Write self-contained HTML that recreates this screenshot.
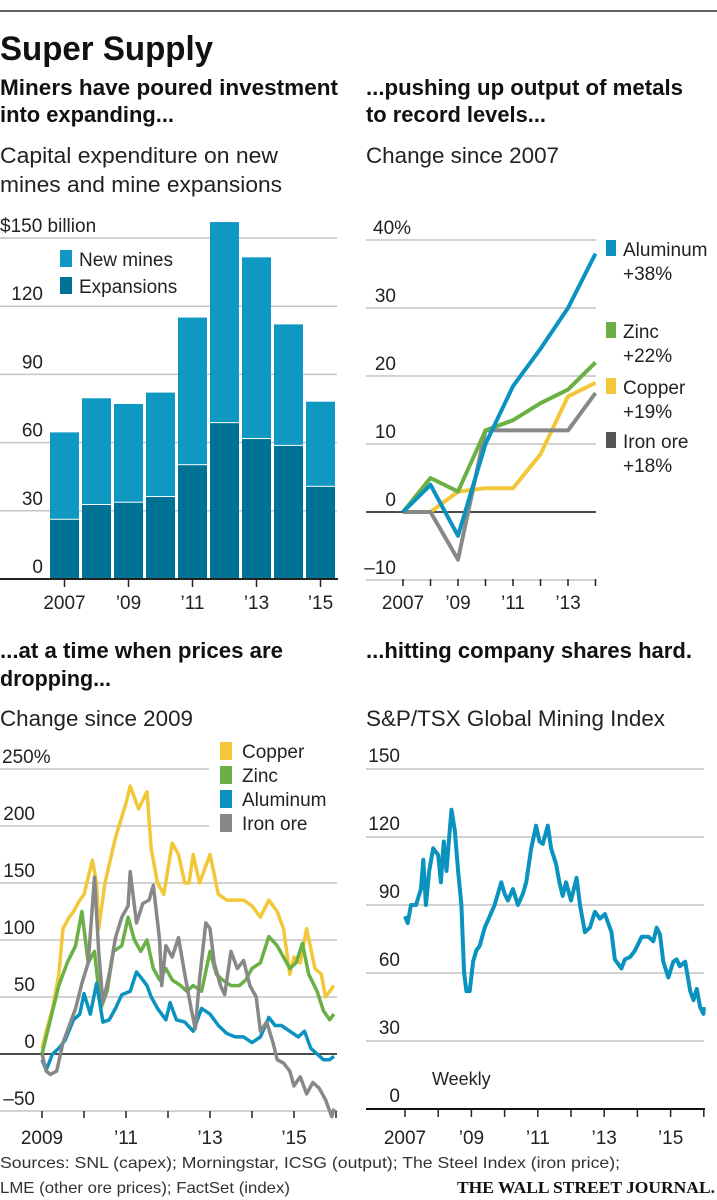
<!DOCTYPE html>
<html><head><meta charset="utf-8"><style>
html,body{margin:0;padding:0;background:#fff;}
svg{display:block;font-family:"Liberation Sans",sans-serif;}
.h{font-weight:bold;font-size:22px;fill:#111;}
.s{font-size:22px;fill:#222;}
.t{font-size:18px;fill:#222;}
.g{stroke:#c4c4c4;stroke-width:1.5;}
</style></head><body>
<svg id="root" width="717" height="1200" viewBox="0 0 717 1200">
<line x1="0" y1="11" x2="717" y2="11" stroke="#333" stroke-width="1.5"/>
<text x="0" y="60" font-size="34" font-weight="bold" fill="#111" textLength="213" lengthAdjust="spacingAndGlyphs">Super Supply</text>
<text class="h" x="0" y="95" textLength="338" lengthAdjust="spacingAndGlyphs">Miners have poured investment</text>
<text class="h" x="0" y="122" textLength="174" lengthAdjust="spacingAndGlyphs">into expanding...</text>
<text class="s" x="0" y="163" textLength="278" lengthAdjust="spacingAndGlyphs">Capital expenditure on new</text>
<text class="s" x="0" y="192" textLength="282" lengthAdjust="spacingAndGlyphs">mines and mine expansions</text>
<text class="h" x="366" y="95" textLength="317" lengthAdjust="spacingAndGlyphs">...pushing up output of metals</text>
<text class="h" x="366" y="122" textLength="180" lengthAdjust="spacingAndGlyphs">to record levels...</text>
<text class="s" x="366" y="163" textLength="193" lengthAdjust="spacingAndGlyphs">Change since 2007</text>
<text class="h" x="0" y="658" textLength="283" lengthAdjust="spacingAndGlyphs">...at a time when prices are</text>
<text class="h" x="0" y="686" textLength="111" lengthAdjust="spacingAndGlyphs">dropping...</text>
<text class="s" x="0" y="726" textLength="193" lengthAdjust="spacingAndGlyphs">Change since 2009</text>
<text class="h" x="366" y="658" textLength="326" lengthAdjust="spacingAndGlyphs">...hitting company shares hard.</text>
<text class="s" x="366" y="726" textLength="299" lengthAdjust="spacingAndGlyphs">S&amp;P/TSX Global Mining Index</text>
<text x="0" y="1168" font-size="16" fill="#333" textLength="620" lengthAdjust="spacingAndGlyphs">Sources: SNL (capex); Morningstar, ICSG (output); The Steel Index (iron price);</text>
<text x="0" y="1193" font-size="16" fill="#333" textLength="290" lengthAdjust="spacingAndGlyphs">LME (other ore prices); FactSet (index)</text>
<text x="457" y="1193" font-size="17" font-weight="bold" fill="#111" font-family="Liberation Serif,serif" textLength="258" lengthAdjust="spacingAndGlyphs">THE WALL STREET JOURNAL.</text>
<text class="t" x="432" y="1085">Weekly</text>
</svg>
<script>
// ---------- Chart 1 data ----------
const capexYears = [2007,2008,2009,2010,2011,2012,2013,2014,2015];
const capexTotal = [64.5,79.5,77,82,115,157,141.5,112,78];
const capexExpansions = [26.5,33,34,36.5,50.5,69,62,59,41];
const capexTicks = [0,30,60,90,120,150];
// ---------- Chart 2 data ----------
const outYears = [2007,2008,2009,2010,2011,2012,2013,2014];
const outAluminum = [0,4,-3.5,10,18.5,24,30,38];
const outZinc = [0,5,3,12,13.5,16,18,22];
const outCopper = [null,0,3,3.5,3.5,8.5,17,19];
const outIron = [0,0,-7,12,12,12,12,17.5];
const outTicks = [-10,0,10,20,30,40];
// ---------- Chart 3 data ----------
const priceTicks = [-50,0,50,100,150,200,250];
const copperT = [2009.0,2009.1,2009.25,2009.4,2009.5,2009.65,2009.75,2009.9,2010.0,2010.2,2010.3,2010.35,2010.5,2010.75,2011.0,2011.1,2011.3,2011.5,2011.6,2011.75,2011.9,2012.1,2012.25,2012.4,2012.5,2012.6,2012.75,2013.0,2013.2,2013.4,2013.6,2013.8,2014.0,2014.2,2014.4,2014.6,2014.75,2014.9,2015.0,2015.15,2015.3,2015.5,2015.65,2015.75,2015.95];
const copperV = [5,20,40,70,110,120,125,135,140,170,150,110,150,190,220,235,215,230,180,150,140,185,175,150,150,175,150,175,140,135,135,135,130,120,135,125,110,70,85,80,110,75,70,50,60];
const zincT = [2009.0,2009.2,2009.4,2009.6,2009.8,2009.95,2010.1,2010.25,2010.4,2010.55,2010.7,2010.9,2011.05,2011.2,2011.35,2011.5,2011.65,2011.8,2011.95,2012.1,2012.3,2012.45,2012.6,2012.8,2013.0,2013.15,2013.3,2013.5,2013.7,2013.85,2014.0,2014.2,2014.4,2014.6,2014.75,2014.9,2015.05,2015.2,2015.35,2015.55,2015.7,2015.85,2015.95];
const zincV = [0,30,60,80,95,125,80,90,40,55,90,95,120,100,90,100,75,65,75,65,60,55,60,55,90,70,65,60,60,65,75,80,103,95,85,75,80,97,70,55,38,30,35];
const alumT = [2009.0,2009.1,2009.25,2009.4,2009.55,2009.75,2009.9,2010.0,2010.15,2010.3,2010.45,2010.6,2010.75,2010.9,2011.1,2011.25,2011.4,2011.5,2011.6,2011.75,2011.95,2012.05,2012.2,2012.4,2012.6,2012.8,2013.0,2013.2,2013.4,2013.6,2013.8,2014.0,2014.2,2014.4,2014.55,2014.7,2014.9,2015.1,2015.25,2015.4,2015.55,2015.7,2015.85,2015.95];
const alumV = [-5,-14,0,5,12,30,35,53,35,62,28,30,40,52,55,72,65,60,50,40,30,45,30,28,20,40,35,25,18,15,15,10,15,32,25,25,20,15,20,5,0,-5,-5,-2];
const ironT = [2009.0,2009.1,2009.2,2009.35,2009.5,2009.65,2009.8,2009.95,2010.1,2010.25,2010.35,2010.45,2010.6,2010.75,2010.9,2011.05,2011.1,2011.25,2011.4,2011.55,2011.65,2011.8,2011.85,2011.95,2012.1,2012.25,2012.4,2012.55,2012.65,2012.75,2012.9,2013.0,2013.1,2013.25,2013.35,2013.5,2013.65,2013.8,2013.95,2014.1,2014.2,2014.35,2014.5,2014.6,2014.75,2014.9,2015.0,2015.15,2015.3,2015.45,2015.6,2015.75,2015.9,2015.95];
const ironV = [0,-15,-18,-15,10,25,40,62,80,155,90,45,70,102,120,130,160,115,132,135,148,100,60,95,85,102,70,40,22,65,115,110,80,60,52,90,75,82,60,50,20,28,10,-5,-8,-15,-28,-20,-35,-25,-30,-40,-55,-48];
// ---------- Chart 4 data ----------
const idxTicks = [0,30,60,90,120,150];
const idxT = [2007.0,2007.08,2007.18,2007.33,2007.48,2007.55,2007.63,2007.73,2007.85,2008.0,2008.08,2008.17,2008.25,2008.33,2008.4,2008.5,2008.6,2008.7,2008.78,2008.85,2008.95,2009.05,2009.15,2009.25,2009.4,2009.55,2009.7,2009.9,2010.0,2010.1,2010.25,2010.4,2010.55,2010.65,2010.8,2010.95,2011.05,2011.15,2011.3,2011.4,2011.55,2011.65,2011.75,2011.85,2012.0,2012.17,2012.27,2012.42,2012.57,2012.72,2012.87,2013.02,2013.22,2013.32,2013.52,2013.62,2013.78,2013.93,2014.13,2014.33,2014.48,2014.58,2014.68,2014.78,2014.93,2015.08,2015.18,2015.28,2015.44,2015.59,2015.69,2015.79,2015.89,2015.99,2016.0];
const idxV = [85,82,90,90,97,110,90,105,115,112,100,118,105,120,132,123,105,90,60,52,52,65,70,72,80,85,90,100,95,92,97,90,95,100,115,125,118,117,125,115,108,100,94,100,92,102,90,78,80,87,84,86,78,66,62,66,67,70,76,76,74,80,77,65,58,65,66,63,65,52,48,53,45,42,45];

const NS='http://www.w3.org/2000/svg';
const root=document.getElementById('root');
function mk(tag,attrs,parent){const e=document.createElementNS(NS,tag);for(const k in attrs)e.setAttribute(k,attrs[k]);(parent||root).appendChild(e);return e;}
function lbl(x,y,s,anchor,parent){const t=mk('text',{x:x,y:y,'font-size':19,fill:'#222','text-anchor':anchor||'start'},parent);t.textContent=s;return t;}

// ===== Chart 1: bars =====
(function(){
  const g=mk('g',{});
  
  
  const y=v=>579-v*(341/150);
  const x=i=>50+i*32;
  capexTicks.forEach(v=>{
    if(v>0){const l=mk('line',{x1:0,x2:337,y1:y(v),y2:y(v),class:'g'},g);
    
    }
    const t=lbl(v===150?0:43,y(v)-6,v===150?'$150 billion':String(v),v===150?'start':'end',g);
    
    
  });
  capexYears.forEach((yr,i)=>{
    const r1=mk('rect',{x:x(i),y:y(capexTotal[i]),width:29,height:y(capexExpansions[i])-y(capexTotal[i]),fill:'#0f98c1'},g);
    
    
    const r2=mk('rect',{x:x(i),y:y(capexExpansions[i])+1,width:29,height:y(0)-y(capexExpansions[i])-1,fill:'#007296'},g);
    
    
    if(i%2===0){
      const tk=mk('line',{x1:x(i)+14.5,x2:x(i)+14.5,y1:579,y2:587,stroke:'#222','stroke-width':1.5},g);
      
      
      const t=lbl(x(i)+14.5,609,yr===2007?'2007':'\u2019'+String(yr).slice(2),'middle',g);
      
      
    }
  });
  const ax=mk('line',{x1:0,x2:338,y1:579,y2:579,stroke:'#222','stroke-width':2},g);
  
  
  const leg=[['New mines','#0f98c1',250],['Expansions','#007296',277]];
  leg.forEach(L=>{
    const s=mk('rect',{x:60,y:L[2],width:12,height:17,fill:L[1]},g);
    
    
    const t=lbl(79,L[2]+16,L[0],'start',g);
    
    
  });
})();

// ===== Chart 2: output lines =====
(function(){
  const g=mk('g',{});
  
  
  const y=v=>512-v*6.8;
  const x=yr=>403+(yr-2007)*27.5;
  outTicks.forEach(v=>{
    const l=mk('line',{x1:366,x2:596,y1:y(v),y2:y(v),class:'g'},g);
    if(v===0){l.setAttribute('stroke','#111');l.setAttribute('style','stroke:#111;stroke-width:1.5');}
    
    
    const t=lbl(396,y(v)-6,v===40?'40%':(v<0?'\u2013'+Math.abs(v):String(v)),'end',g);
    if(v===40){t.setAttribute('text-anchor','start');t.setAttribute('x',373);}
    
    
  });
  outYears.forEach(yr=>{
    const tk=mk('line',{x1:x(yr),x2:x(yr),y1:579,y2:586,stroke:'#222','stroke-width':1.5},g);
    
    
    if(yr%2===1){
      const t=lbl(x(yr),609,yr===2007?'2007':'\u2019'+String(yr).slice(2),'middle',g);
      
      
    }
  });
  const series=[['copper',outCopper,'#f2c73a'],['iron-ore',outIron,'#888888'],['zinc',outZinc,'#6ab045'],['aluminum',outAluminum,'#0a93bf']];
  series.forEach(S=>{
    let d='';
    S[1].forEach((v,i)=>{if(v===null)return;d+=(d?'L':'M')+x(outYears[i]).toFixed(1)+','+y(v).toFixed(1);});
    const p=mk('path',{d:d,fill:'none',stroke:S[2],'stroke-width':4,'stroke-linejoin':'round'},g);
    
    
  });
  const leg=[['Aluminum','+38%','#0a93bf',240],['Zinc','+22%','#6ab045',322],['Copper','+19%','#f2c73a',378],['Iron ore','+18%','#555555',432]];
  leg.forEach(L=>{
    const s=mk('rect',{x:606,y:L[3],width:10,height:16,fill:L[2]},g);
    
    
    const t=lbl(623,L[3]+16,L[0],'start',g);
    
    
    const t2=lbl(623,L[3]+40,L[1],'start',g);
    
    
  });
})();

// ===== Chart 3: prices =====
(function(){
  const g=mk('g',{});
  
  
  const y=v=>1054-v*(57/50);
  const x=t=>42+(t-2009)*42;
  priceTicks.forEach(v=>{
    if(v>-50){
      const l=mk('line',{x1:0,x2:(v>=200?209:337),y1:y(v),y2:y(v),class:'g'},g);
      if(v===0){l.setAttribute('style','stroke:#111;stroke-width:1.5');}
      
      
    }
    const t=lbl(v===250?2:35,y(v)-6,v===250?'250%':(v<0?'\u2013'+Math.abs(v):String(v)),v===250?'start':'end',g);
    
    
  });
  const ax=mk('line',{x1:0,x2:338,y1:1111,y2:1111,stroke:'#c4c4c4','stroke-width':1.5},g);
  
  
  for(let yr=2009;yr<=2016;yr++){
    const tk=mk('line',{x1:x(yr),x2:x(yr),y1:1111,y2:1118,stroke:'#222','stroke-width':1.5},g);
    
    
    if(yr%2===1){
      const t=lbl(x(yr),1144,yr===2009?'2009':'\u2019'+String(yr).slice(2),'middle',g);
      
      
    }
  }
  const series=[['copper',copperT,copperV,'#f2c73a'],['zinc',zincT,zincV,'#6ab045'],['aluminum',alumT,alumV,'#0a93bf'],['iron-ore',ironT,ironV,'#888888']];
  series.forEach(S=>{
    let d='';
    S[1].forEach((t,i)=>{d+=(i?'L':'M')+x(t).toFixed(1)+','+y(S[2][i]).toFixed(1);});
    const p=mk('path',{d:d,fill:'none',stroke:S[3],'stroke-width':3.5,'stroke-linejoin':'round'},g);
    
    
  });
  const leg=[['Copper','#f2c73a',742],['Zinc','#6ab045',766],['Aluminum','#0a93bf',790],['Iron ore','#888888',814]];
  leg.forEach(L=>{
    const s=mk('rect',{x:220,y:L[2],width:12,height:18,fill:L[1]},g);
    
    
    const t=lbl(242,L[2]+16,L[0],'start',g);
    
    
  });
})();

// ===== Chart 4: index =====
(function(){
  const g=mk('g',{});
  
  
  const y=v=>1109-v*(68/30);
  const x=t=>405+(t-2007)*33.2;
  idxTicks.forEach(v=>{
    if(v>0){
      const l=mk('line',{x1:366,x2:704,y1:y(v),y2:y(v),class:'g'},g);
      
      
    }
    const t=lbl(400,y(v)-7,String(v),'end',g);
    
    
  });
  const ax=mk('line',{x1:366,x2:705,y1:1109,y2:1109,stroke:'#111','stroke-width':2},g);
  
  
  for(let yr=2007;yr<=2016;yr++){
    const tk=mk('line',{x1:x(yr),x2:x(yr),y1:1109,y2:1117,stroke:'#222','stroke-width':1.5},g);
    
    
    if(yr%2===1&&yr<2016){
      const t=lbl(x(yr),1144,yr===2007?'2007':'\u2019'+String(yr).slice(2),'middle',g);
      
      
    }
  }
  let d='';
  idxT.forEach((t,i)=>{d+=(i?'L':'M')+x(t).toFixed(1)+','+y(idxV[i]).toFixed(1);});
  const p=mk('path',{d:d,fill:'none',stroke:'#0a93bf','stroke-width':4,'stroke-linejoin':'round'},g);
  
  
})();
</script>
</body></html>
